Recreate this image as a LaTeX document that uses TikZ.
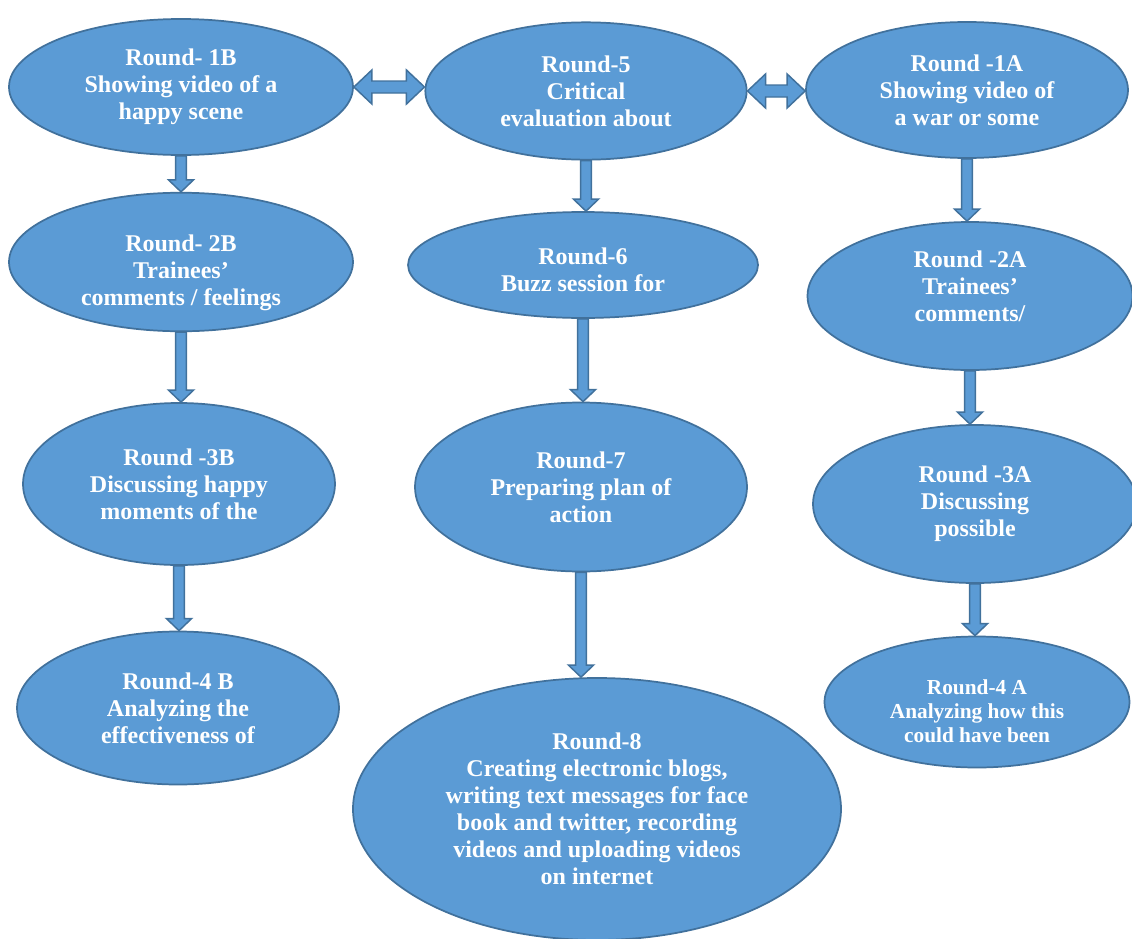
\documentclass[tikz,border=0pt]{standalone}
\usepackage{fontspec}
\setmainfont{Liberation Serif}
\usetikzlibrary{shapes.geometric,calc}

\definecolor{rfill}{HTML}{5B9BD5}
\definecolor{rline}{HTML}{41719C}

\tikzset{
    rnd/.style={ellipse, fill=rfill, draw=rline, line width=1.3pt, inner sep=0pt,
        text=white, align=center, font=\bfseries\fontsize{18}{20.25}\selectfont},
    blockarrow/.style={fill=rfill, draw=rline, line width=1.1pt, line join=miter}
}

% block arrow pointing down, from the bottom of #1 to the top of #2
\newcommand{\blockdown}[2]{%
    \filldraw[blockarrow] let \p1=(#1.south), \p2=(#2.north) in
        (\x1-4.1pt,\y1) -- (\x1-4.1pt,\y2+9pt) -- (\x1-9.4pt,\y2+9pt) -- (\x1,\y2)
        -- (\x1+9.4pt,\y2+9pt) -- (\x1+4.1pt,\y2+9pt) -- (\x1+4.1pt,\y1) -- cycle;}

% block arrow with two heads, between the east side of #1 and the west side of #2
\newcommand{\blockboth}[2]{%
    \filldraw[blockarrow] let \p1=(#1.east), \p2=(#2.west) in
        (\x1,\y1) -- (\x1+13.5pt,\y1+12.75pt) -- (\x1+13.5pt,\y1+4.5pt)
        -- (\x2-13.5pt,\y1+4.5pt) -- (\x2-13.5pt,\y1+12.75pt) -- (\x2,\y1)
        -- (\x2-13.5pt,\y1-12.75pt) -- (\x2-13.5pt,\y1-4.5pt)
        -- (\x1+13.5pt,\y1-4.5pt) -- (\x1+13.5pt,\y1-12.75pt) -- cycle;}

\begin{document}
\begin{tikzpicture}[x=0.75pt, y=-0.75pt]
    \useasboundingbox[fill=white] (0,0) rectangle (1132,939);

    % Left column (B)
    \node[rnd, minimum width=258pt, minimum height=102pt] (r1b) at (181,87)
        {Round- 1B\\Showing video of a\\happy scene};
    \node[rnd, minimum width=258pt, minimum height=99pt] (r2b) at (181,262)
        {\rule{0pt}{29pt}Round- 2B\\Trainees’\\comments / feelings};
    \node[rnd, minimum width=234pt, minimum height=121.5pt] (r3b) at (179,484)
        {Round -3B\\Discussing happy\\moments of the};
    \node[rnd, minimum width=241.5pt, minimum height=114.75pt] (r4b) at (178,708)
        {Round-4 B\\Analyzing the\\effectiveness of};

    % Middle column
    \node[rnd, minimum width=241pt, minimum height=103pt] (r5) at (586,91)
        {Round-5\\Critical\\evaluation about};
    \node[rnd, minimum width=262.5pt, minimum height=79.5pt] (r6) at (583,265)
        {\rule{0pt}{20pt}Round-6\\Buzz session for};
    \node[rnd, minimum width=249pt, minimum height=126.75pt] (r7) at (581,487)
        {Round-7\\Preparing plan of\\action};
    \node[rnd, minimum width=366pt, minimum height=196.5pt] (r8) at (597,809)
        {Round-8\\Creating electronic blogs,\\writing text messages for face\\book and twitter, recording\\videos and uploading videos\\on internet};

    % Right column (A)
    \node[rnd, minimum width=241.5pt, minimum height=102pt] (r1a) at (967,90)
        {Round -1A\\Showing video of\\a war or some};
    \node[rnd, minimum width=243.75pt, minimum height=111pt] (r2a) at (970,296)
        {Round -2A\\Trainees’\\comments/\rule[-14pt]{0pt}{14pt}};
    \node[rnd, minimum width=243pt, minimum height=118.5pt] (r3a) at (975,504)
        {Round -3A\\Discussing\\possible};
    \node[rnd, minimum width=228.75pt, minimum height=98.25pt,
        font=\bfseries\fontsize{16}{18}\selectfont] (r4a) at (977,702)
        {\rule{0pt}{24.5pt}Round-4 A\\Analyzing how this\\could have been};

    % Arrows
    \blockboth{r1b}{r5}
    \blockboth{r5}{r1a}
    \blockdown{r1b}{r2b}
    \blockdown{r2b}{r3b}
    \blockdown{r3b}{r4b}
    \blockdown{r5}{r6}
    \blockdown{r6}{r7}
    \blockdown{r7}{r8}
    \blockdown{r1a}{r2a}
    \blockdown{r2a}{r3a}
    \blockdown{r3a}{r4a}
\end{tikzpicture}
\end{document}
